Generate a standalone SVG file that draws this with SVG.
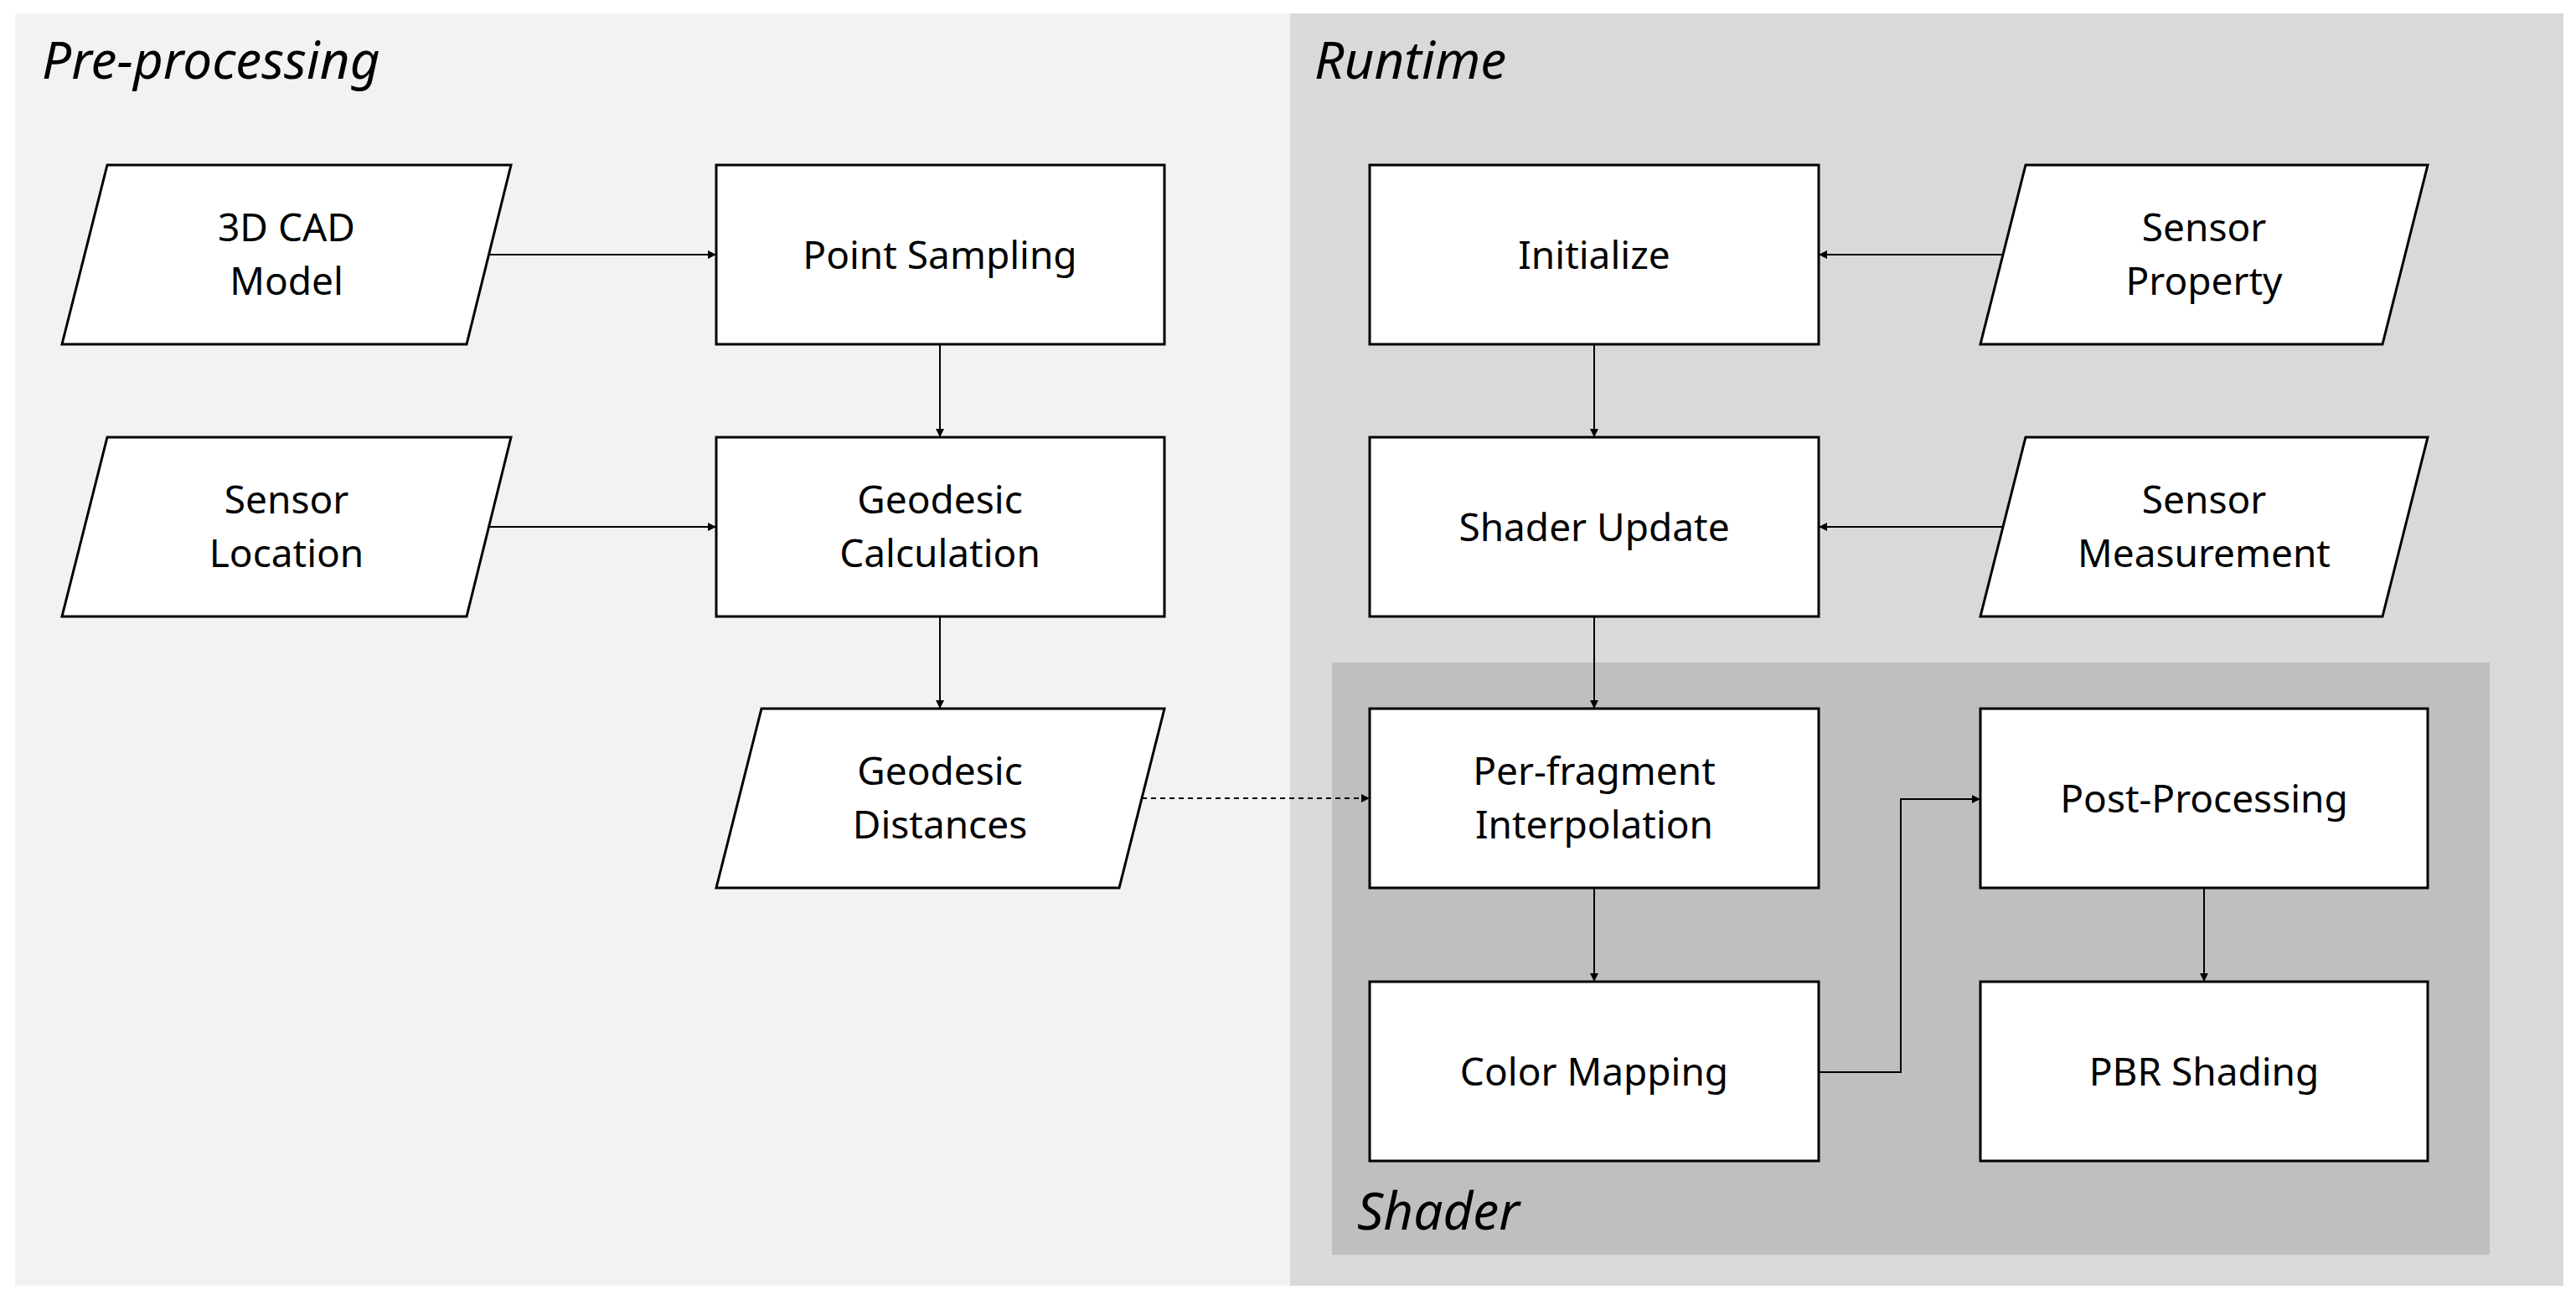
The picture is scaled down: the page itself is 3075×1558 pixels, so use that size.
<svg xmlns="http://www.w3.org/2000/svg" width="3075" height="1558" viewBox="0 0 3075 1558">
<style>
.n{fill:#fff;stroke:#000;stroke-width:3}
.t{font-family:"Noto Sans","Open Sans",sans-serif;font-size:46px;text-anchor:middle;fill:#000}
.h{font-family:"Noto Sans","Open Sans",sans-serif;font-size:62px;font-style:italic;fill:#000}
.c{fill:none;stroke:#000;stroke-width:2;marker-end:url(#a)}
</style>
<defs><marker id="a" viewBox="0 0 10 10" refX="10" refY="5" markerWidth="10" markerHeight="10" markerUnits="userSpaceOnUse" orient="auto"><path d="M0,0L10,5L0,10z" fill="#000"/></marker></defs>
<rect width="3075" height="1558" fill="#fff"/>
<rect x="18" y="16" width="1522" height="1519" fill="#f2f2f2"/>
<rect x="1540" y="16" width="1520" height="1519" fill="#d9d9d9"/>
<rect x="1590" y="791" width="1382" height="707" fill="#bfbfbf"/>
<text class="h" x="50" y="94">Pre-processing</text>
<text class="h" x="1569" y="94">Runtime</text>
<text class="h" x="1620" y="1468">Shader</text>
<g id="cad"><polygon class="n" points="128,197 610,197 557,411 74,411"/><text class="t" x="342" y="288">3D CAD</text><text class="t" x="342" y="352">Model</text></g>
<g id="point"><rect class="n" x="855" y="197" width="535" height="214"/><text class="t" x="1122" y="321">Point Sampling</text></g>
<g id="sloc"><polygon class="n" points="128,522 610,522 557,736 74,736"/><text class="t" x="342" y="613">Sensor</text><text class="t" x="342" y="677">Location</text></g>
<g id="geo"><rect class="n" x="855" y="522" width="535" height="214"/><text class="t" x="1122" y="613">Geodesic</text><text class="t" x="1122" y="677">Calculation</text></g>
<g id="gdist"><polygon class="n" points="909,846 1390,846 1336,1060 855,1060"/><text class="t" x="1122" y="937">Geodesic</text><text class="t" x="1122" y="1001">Distances</text></g>
<g id="init"><rect class="n" x="1635" y="197" width="536" height="214"/><text class="t" x="1903" y="321">Initialize</text></g>
<g id="sprop"><polygon class="n" points="2418,197 2898,197 2844,411 2364,411"/><text class="t" x="2631" y="288">Sensor</text><text class="t" x="2631" y="352">Property</text></g>
<g id="shupd"><rect class="n" x="1635" y="522" width="536" height="214"/><text class="t" x="1903" y="646">Shader Update</text></g>
<g id="smeas"><polygon class="n" points="2418,522 2898,522 2844,736 2364,736"/><text class="t" x="2631" y="613">Sensor</text><text class="t" x="2631" y="677">Measurement</text></g>
<g id="perfrag"><rect class="n" x="1635" y="846" width="536" height="214"/><text class="t" x="1903" y="937">Per-fragment</text><text class="t" x="1903" y="1001">Interpolation</text></g>
<g id="post"><rect class="n" x="2364" y="846" width="534" height="214"/><text class="t" x="2631" y="970">Post-Processing</text></g>
<g id="color"><rect class="n" x="1635" y="1172" width="536" height="214"/><text class="t" x="1903" y="1296">Color Mapping</text></g>
<g id="pbr"><rect class="n" x="2364" y="1172" width="534" height="214"/><text class="t" x="2631" y="1296">PBR Shading</text></g>
<g id="connectors">
<path class="c" d="M584,304H855"/>
<path class="c" d="M584,629H855"/>
<path class="c" d="M1122,411V522"/>
<path class="c" d="M1122,736V846"/>
<path class="c" d="M1363,953H1635" stroke-dasharray="6,5"/>
<path class="c" d="M2391,304H2171"/>
<path class="c" d="M2391,629H2171"/>
<path class="c" d="M1903,411V522"/>
<path class="c" d="M1903,736V846"/>
<path class="c" d="M1903,1060V1172"/>
<path class="c" d="M2171,1280H2269V954H2364"/>
<path class="c" d="M2631,1060V1172"/>
</g>
</svg>
